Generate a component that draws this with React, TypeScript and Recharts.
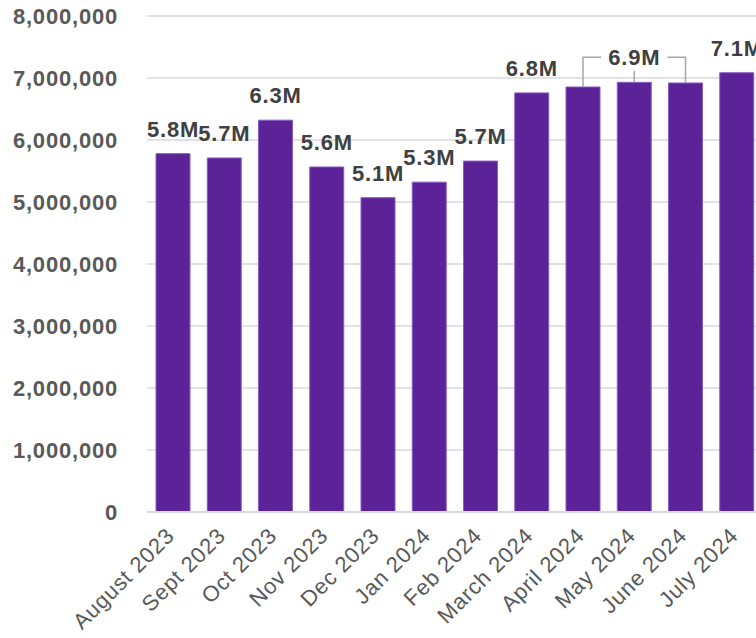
import React from "react";
import { BarChart, Bar, XAxis, YAxis, CartesianGrid, LabelList } from "recharts";

const months = [
  "August 2023", "Sept 2023", "Oct 2023", "Nov 2023", "Dec 2023", "Jan 2024",
  "Feb 2024", "March 2024", "April 2024", "May 2024", "June 2024", "July 2024",
];
const viewers = [
  5780000, 5710000, 6320000, 5565000, 5070000, 5320000,
  5660000, 6760000, 6855000, 6930000, 6920000, 7085000,
];
const labelTexts = [
  "5.8M", "5.7M", "6.3M", "5.6M", "5.1M", "5.3M",
  "5.7M", "6.8M", "", "6.9M", "", "7.1M",
];
// grouped label (April–June share one label)
const groupStart = 8;
const groupMid = 9;
const groupEnd = 10;
const yTicks = [0, 1000000, 2000000, 3000000, 4000000, 5000000, 6000000, 7000000, 8000000];

const data = months.map((m, i) => ({ month: m, value: viewers[i], label: labelTexts[i] }));
const groupMax = Math.max(viewers[groupStart], viewers[groupMid], viewers[groupEnd]);

const FONT = '"Liberation Sans", Arial, sans-serif';
const PURPLE = "#5C2399";
const LABEL_COLOR = "#404040";
const TICK_COLOR = "#595959";
const BRACKET = "#A6A6A6";

const fmt = (v: number) => v.toLocaleString("en-US");

const XTick = (props: any) => {
  const { x, y, payload } = props;
  return (
    <g transform={`translate(${x + 3},${y + 25})`}>
      <text
        x={0}
        y={0}
        textAnchor="end"
        transform="rotate(-45)"
        fill={TICK_COLOR}
        fontSize={22}
        letterSpacing={0.8}
        fontFamily={FONT}
      >
        {payload.value}
      </text>
    </g>
  );
};

const BarLabel = (props: any) => {
  const { x, y, width, height, index, value } = props;
  const cx = x + width / 2;
  const base = y + height;
  const perUnit = height / value;
  const groupTop = base - groupMax * perUnit;
  const lineY = groupTop - 25;
  const txt = labelTexts[index];
  const elems: React.ReactNode[] = [];
  if (index === groupStart) {
    elems.push(
      <polyline
        key="l"
        points={`${cx},${y} ${cx},${lineY} ${cx + 18},${lineY}`}
        fill="none"
        stroke={BRACKET}
        strokeWidth={1.5}
      />
    );
  }
  if (index === groupEnd) {
    elems.push(
      <polyline
        key="r"
        points={`${cx},${y} ${cx},${lineY} ${cx - 18},${lineY}`}
        fill="none"
        stroke={BRACKET}
        strokeWidth={1.5}
      />
    );
  }
  if (index === groupMid) {
    elems.push(
      <line key="m" x1={cx} y1={y} x2={cx} y2={y - 11.5} stroke={BRACKET} strokeWidth={1.5} />
    );
    elems.push(
      <text
        key="t"
        x={cx}
        y={lineY + 8}
        textAnchor="middle"
        fill={LABEL_COLOR}
        fontSize={22}
        fontWeight="bold"
        letterSpacing={0.8}
        fontFamily={FONT}
      >
        {txt}
      </text>
    );
  } else if (txt) {
    elems.push(
      <text
        key="t"
        x={cx}
        y={y - 17}
        textAnchor="middle"
        fill={LABEL_COLOR}
        fontSize={22}
        fontWeight="bold"
        letterSpacing={0.8}
        fontFamily={FONT}
      >
        {txt}
      </text>
    );
  }
  return <g>{elems}</g>;
};

export default function App() {
  return (
    <div
      style={{
        position: "absolute",
        left: 0,
        top: 0,
        width: 756,
        height: 638,
        overflow: "hidden",
        background: "#fff",
      }}
    >
      <BarChart
        width={770}
        height={638}
        data={data}
        margin={{ top: 16, right: 8, left: 0, bottom: 0 }}
        barSize={34}
      >
        <CartesianGrid vertical={false} stroke="#D9D9D9" strokeWidth={1.5} />
        <XAxis
          dataKey="month"
          height={126}
          interval={0}
          tickLine={false}
          tickSize={0}
          tickMargin={0}
          axisLine={{ stroke: "#D9D9D9", strokeWidth: 2 }}
          tick={<XTick />}
        />
        <YAxis
          width={147}
          domain={[0, 8000000]}
          ticks={yTicks}
          interval={0}
          axisLine={false}
          tickLine={false}
          tickSize={0}
          tickMargin={29}
          tickFormatter={fmt}
          tick={{
            fill: TICK_COLOR,
            fontSize: 22,
            fontWeight: "bold",
            fontFamily: FONT,
            letterSpacing: 0.8,
          }}
        />
        <Bar dataKey="value" fill={PURPLE} stroke="#8A5CC4" strokeWidth={1} isAnimationActive={false}>
          <LabelList dataKey="value" content={<BarLabel />} />
        </Bar>
      </BarChart>
    </div>
  );
}
